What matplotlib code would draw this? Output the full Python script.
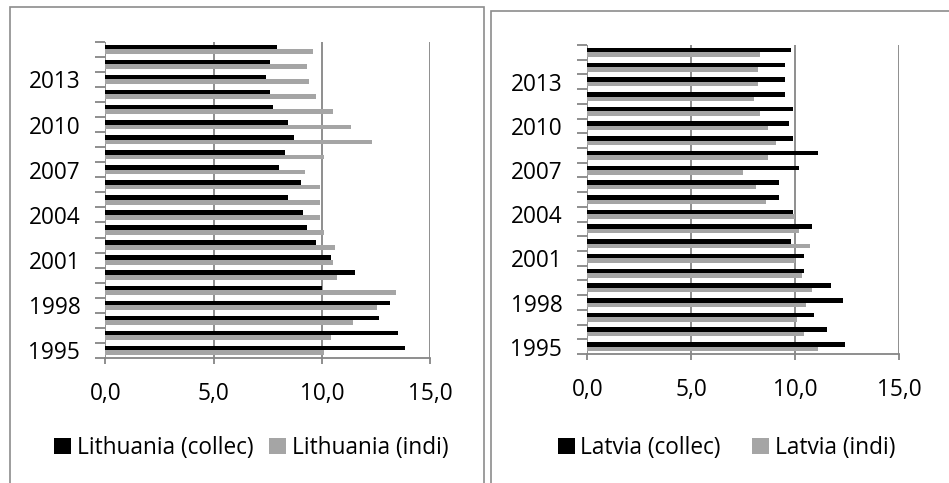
import matplotlib
matplotlib.use("Agg")
import matplotlib.pyplot as plt
from matplotlib.patches import Rectangle
import numpy as np

years = list(range(1995, 2016))
lt_collec = [13.84, 13.54, 12.63, 13.14, 10.02, 11.53, 10.43, 9.72, 9.32, 9.12,
             8.43, 9.03, 8.01, 8.32, 8.72, 8.43, 7.73, 7.63, 7.41, 7.63, 7.92]
lt_indi = [10.12, 10.43, 11.42, 12.53, 13.44, 10.72, 10.51, 10.62, 10.12, 9.92,
           9.92, 9.92, 9.21, 10.12, 12.33, 11.34, 10.51, 9.72, 9.43, 9.32, 9.61]
lv_collec = [12.40, 11.51, 10.90, 12.31, 11.70, 10.40, 10.40, 9.79, 10.80, 9.90,
             9.20, 9.20, 10.19, 11.11, 9.90, 9.70, 9.90, 9.50, 9.50, 9.50, 9.79]
lv_indi = [11.11, 10.40, 10.10, 10.50, 10.80, 10.30, 10.00, 10.71, 10.19, 10.00,
           8.59, 8.09, 7.48, 8.69, 9.09, 8.69, 8.30, 8.00, 8.21, 8.21, 8.30]
x_ticks = [0, 5, 10, 15]
x_labels = ["0,0", "5,0", "10,0", "15,0"]

FONT = "Open Sans"
plt.rcParams['font.family'] = [FONT, 'DejaVu Sans']
FS = 16.3
GRID = "#868686"
GRAYBAR = "#a5a5a5"
W, H = 949, 483
fig = plt.figure(figsize=(W / 100, H / 100), dpi=100)

def fx(px):
    return px / W

def fy(py):
    return 1 - py / H

# panel borders
fig.patches.append(Rectangle((fx(9.5), fy(520)), fx(483.5) - fx(9.5), fy(6.5) - fy(520),
                             transform=fig.transFigure, fill=False, ec="#8c8c8c", lw=1.2))
fig.patches.append(Rectangle((fx(490.5), fy(520)), fx(1000) - fx(490.5), fy(10.5) - fy(520),
                             transform=fig.transFigure, fill=False, ec="#8c8c8c", lw=1.2))

def panel(rect, collec, indi, lab_c, lab_i, legend_center, colsp):
    ax = fig.add_axes(rect)
    y = np.arange(len(years))
    h = 0.31
    ax.barh(y + h / 2, collec, height=h, color="black", label=lab_c, zorder=3)
    ax.barh(y - h / 2, indi, height=h, color=GRAYBAR, label=lab_i, zorder=2)
    ax.set_xlim(0, 15)
    ax.set_ylim(-0.5, len(years) - 0.5)
    for s in ["top", "right"]:
        ax.spines[s].set_visible(False)
    ax.spines["left"].set_visible(False)
    ax.spines["bottom"].set_color(GRID)
    ax.spines["bottom"].set_linewidth(1.3)
    for v in x_ticks:
        ax.axvline(v, color=GRID, lw=1.3, zorder=1)
    ax.set_xticks(x_ticks)
    ax.set_xticklabels(x_labels, fontsize=FS)
    ax.tick_params(axis="x", length=4, width=1.3, color=GRID, pad=13)
    yt = y[::3]
    ax.set_yticks(yt)
    ax.set_yticklabels([str(years[i]) for i in yt], fontsize=FS)
    ax.set_yticks(np.arange(-0.5, len(years), 1.0), minor=True)
    ax.tick_params(axis="y", which="major", length=0, pad=18)
    ax.tick_params(axis="y", which="minor", length=7, width=1.3, color=GRID)
    ax.legend(loc="center", bbox_to_anchor=legend_center, bbox_transform=fig.transFigure,
              ncol=2, frameon=False, fontsize=FS, handlelength=0.75, handleheight=0.65,
              handletextpad=0.25, columnspacing=colsp, borderpad=0)
    return ax

panel([fx(105.3), fy(358), fx(430) - fx(105.3), fy(41.7) - fy(358)],
      lt_collec, lt_indi, "Lithuania (collec)", "Lithuania (indi)", (fx(251), fy(448)), 0.7)
panel([fx(587.3), fy(354), fx(899.3) - fx(587.3), fy(45) - fy(354)],
      lv_collec, lv_indi, "Latvia (collec)", "Latvia (indi)", (fx(726.5), fy(448)), 1.4)

fig.savefig("out.png", dpi=100)
